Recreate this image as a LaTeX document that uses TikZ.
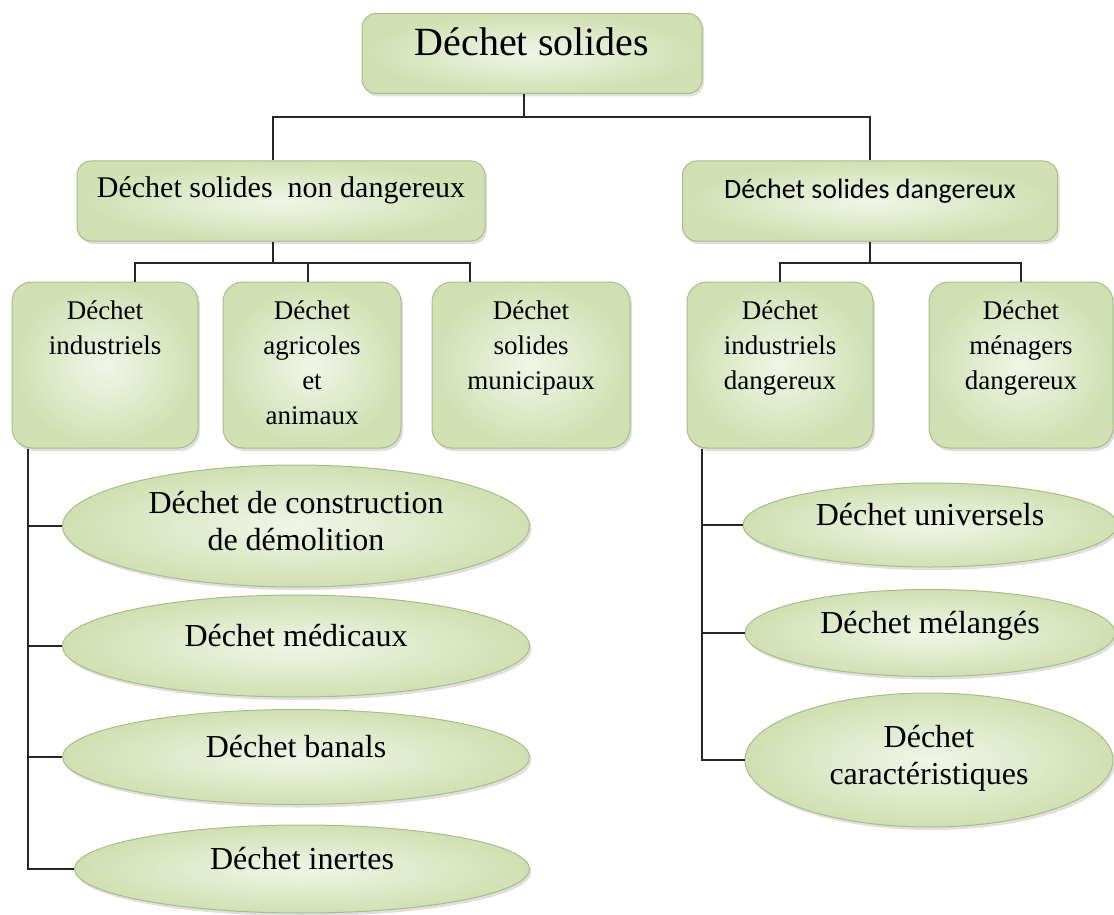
\documentclass[tikz,border=0pt]{standalone}
\usepackage{fontspec}
\setmainfont{Liberation Serif}
\newfontfamily\calibrifont{Carlito}
\usetikzlibrary{positioning, shapes.geometric, shadows}

\definecolor{leafin}{HTML}{F1F5E8}
\definecolor{leafout}{HTML}{D0E0B2}
\definecolor{leafedge}{HTML}{A9BD88}

% text block hanging from the top of a category box
\newcommand{\stacktext}[1]{\parbox[c][140pt][t]{172pt}{\centering\strut #1}}

\begin{document}
\begin{tikzpicture}[
    x=1pt, y=-1pt,
    shadebase/.style={draw=leafedge, line width=1pt, inner color=leafin, outer color=leafout,
        drop shadow={shadow xshift=2pt, shadow yshift=-3pt, opacity=0.25}},
    headbox/.style={shadebase, rectangle, rounded corners=14pt, inner sep=0pt, minimum height=80pt},
    catbox/.style={shadebase, rectangle, rounded corners=20pt, inner sep=0pt, minimum height=166pt,
        font=\fontsize{27}{35}\selectfont},
    leaf/.style={shadebase, ellipse, inner sep=0pt, align=center,
        font=\fontsize{32}{37}\selectfont, text depth=22pt},
    link/.style={line width=2pt, black!85}
]
\useasboundingbox[fill=white] (0,0) rectangle (1114,915);

% Head nodes
\node[headbox, minimum width=340pt, font=\fontsize{40}{44}\selectfont, text depth=24pt] (root) at (532,53.5) {Déchet solides};
\node[headbox, minimum width=408pt, font=\fontsize{30}{34}\selectfont, text depth=28pt] (ndang) at (281,201) {Déchet solides\ \ non dangereux};
\node[headbox, minimum width=375pt, font=\calibrifont\fontsize{28}{32}\selectfont, text depth=25pt] (dang) at (870,201) {Déchet solides dangereux};

% Category boxes
\node[catbox, minimum width=186pt] (indus) at (105,365) {\stacktext{Déchet\\industriels}};
\node[catbox, minimum width=178pt, right=24pt of indus] (agri) {\stacktext{Déchet\\agricoles\\et\\animaux}};
\node[catbox, minimum width=198pt, right=30pt of agri] (muni) {\stacktext{Déchet\\solides\\municipaux}};
\node[catbox, minimum width=186pt] (indd) at (780,365) {\stacktext{Déchet\\industriels\\dangereux}};
\node[catbox, minimum width=184pt, right=55pt of indd] (men) {\stacktext{Déchet\\ménagers\\dangereux}};

% Leaves
\node[leaf, minimum width=467pt, minimum height=122pt, text depth=11pt] (constr) at (296,526) {Déchet de construction\\de démolition};
\node[leaf, minimum width=467pt, minimum height=102pt] (medic) at (296,646) {Déchet médicaux};
\node[leaf, minimum width=467pt, minimum height=95pt] (banal) at (296,757) {Déchet banals};
\node[leaf, minimum width=455pt, minimum height=88pt] (inert) at (302,869) {Déchet inertes};
\node[leaf, minimum width=374pt, minimum height=84pt] (univ) at (930,525) {Déchet universels};
\node[leaf, minimum width=370pt, minimum height=87pt] (melan) at (930,633) {Déchet mélangés};
\node[leaf, minimum width=368pt, minimum height=134pt, text depth=11pt] (caract) at (929,760) {Déchet\\caractéristiques};

% Edges
\draw[link] ([xshift=-8pt]root.south) -- ++(0,23) -| ([xshift=-8pt]ndang.north);
\draw[link] ([xshift=-8pt]root.south) -- ++(0,23) -| (dang.north);

\draw[link] ([xshift=-8pt]ndang.south) -- ++(0,21) -| ([xshift=30pt]indus.north);
\draw[link] ([xshift=-8pt]ndang.south) -- ++(0,21) -| ([xshift=-4pt]agri.north);
\draw[link] ([xshift=-8pt]ndang.south) -- ++(0,21) -| ([xshift=-61pt]muni.north);

\draw[link] (dang.south) -- ++(0,21) -| (indd.north);
\draw[link] (dang.south) -- ++(0,21) -| (men.north);

\coordinate (lspine) at ([xshift=16pt]indus.south west);
\foreach \leafname in {constr, medic, banal, inert}
    \draw[link] (lspine) |- (\leafname.west);

\coordinate (rspine) at ([xshift=15pt]indd.south west);
\foreach \leafname in {univ, melan, caract}
    \draw[link] (rspine) |- (\leafname.west);

\end{tikzpicture}
\end{document}
